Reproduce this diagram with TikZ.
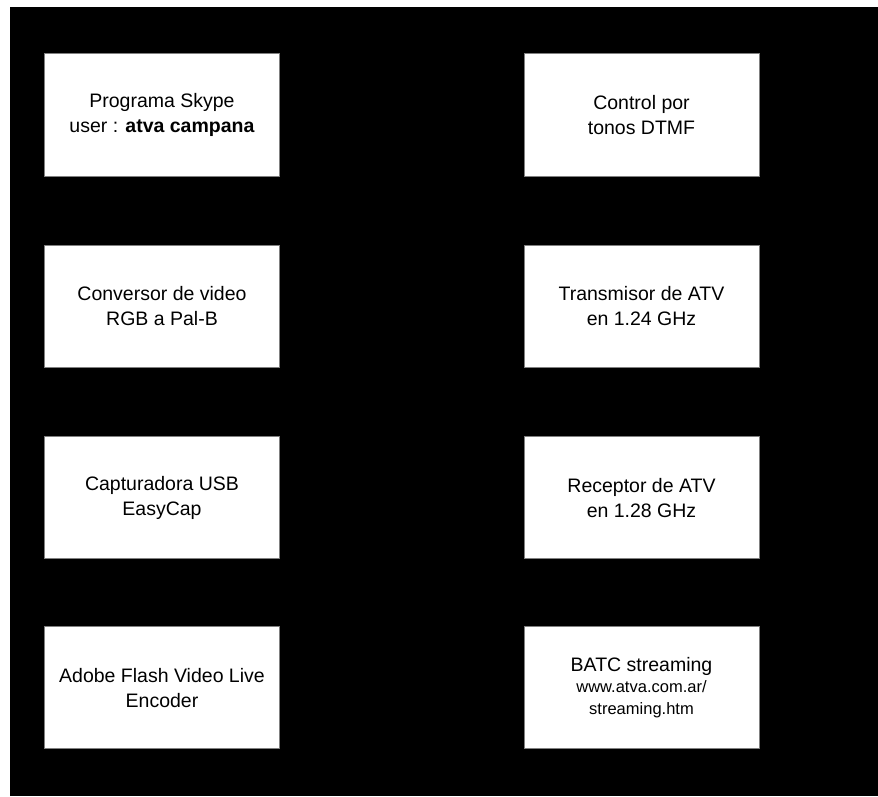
\documentclass[tikz,border=0pt]{standalone}
\usepackage{fontspec}
\setmainfont{Liberation Sans}
\definecolor{boxgray}{RGB}{128,128,128}
\newcommand{\smalltxt}[1]{{\fontsize{16.5}{21}\selectfont #1}}
\begin{document}
\begin{tikzpicture}[x=1pt,y=-1pt,
  box/.style={draw=boxgray, line width=1pt, fill=white, minimum width=235pt,
    minimum height=122.5pt, inner sep=0pt, align=center, text=black,
    font=\fontsize{19.5}{25}\selectfont}]
\useasboundingbox (0,0) rectangle (878,796);
\fill[white] (0,0) rectangle (878,796);
\fill[black] (10,7) rectangle (878,796);
\node[box] (skype) at (162,114.8) {Programa Skype\\user : \textbf{atva campana}};
\node[box] (dtmf) at (641.5,114.8) {Control por\\tonos DTMF};
\node[box] (conv) at (162,306.3) {Conversor de video\\RGB a Pal-B};
\node[box] (tx) at (641.5,306.3) {Transmisor de ATV\\en 1.24 GHz};
\node[box] (cap) at (162,497.7) {Capturadora USB\\EasyCap};
\node[box] (rx) at (641.5,497.7) {Receptor de ATV\\en 1.28 GHz};
\node[box] (flash) at (162,687.7) {Adobe Flash Video Live\\Encoder};
\node[box] (batc) at (641.5,687.7) {BATC streaming\\[-4pt]\smalltxt{www.atva.com.ar/}\\[-3pt]\smalltxt{streaming.htm}};
\end{tikzpicture}
\end{document}
